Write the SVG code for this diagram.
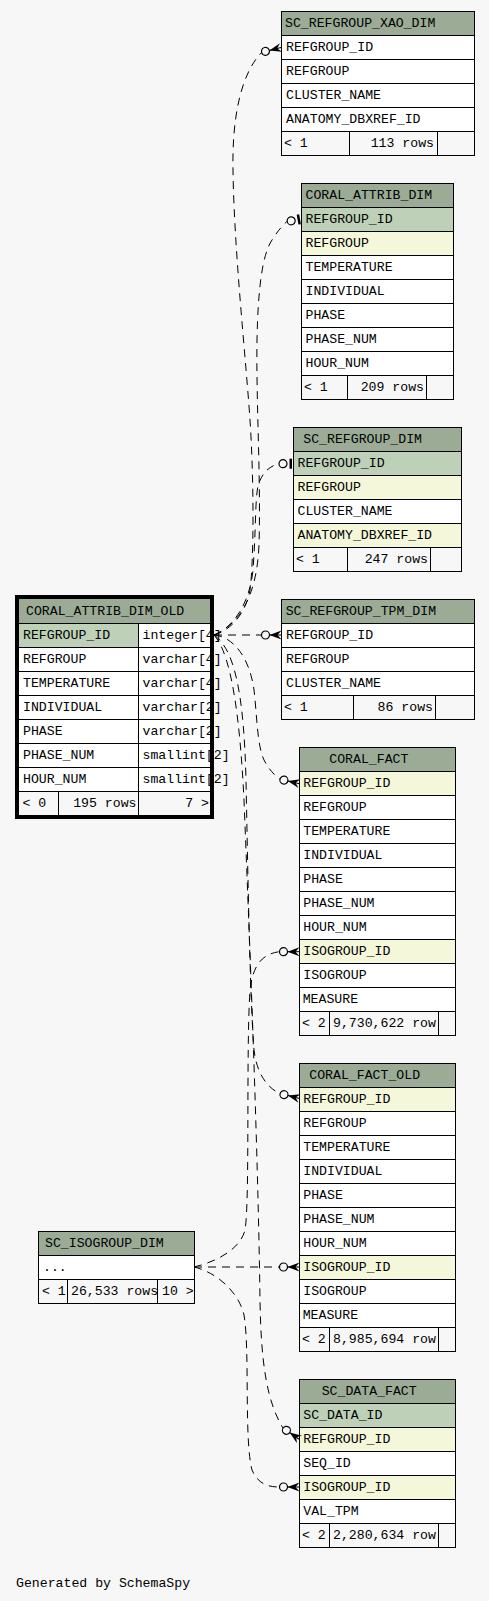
<svg xmlns="http://www.w3.org/2000/svg" xmlns:xlink="http://www.w3.org/1999/xlink" width="489" height="1601" viewBox="0 0 489 1601">
<style>
.t{font-family:"Liberation Mono","DejaVu Sans Mono",monospace;font-size:13.2px;fill:#000}
.e{text-anchor:end}
.h{fill:#9bab96;stroke:#000;stroke-width:1}
.pk{fill:#bed1b8;stroke:#000;stroke-width:1}
.ix{fill:#f4f7da;stroke:#000;stroke-width:1}
.c{fill:#fff;stroke:#000;stroke-width:1}
.f{fill:none;stroke:#000;stroke-width:1}
.ln{fill:none;stroke:#000;stroke-width:1;stroke-dasharray:8,6}
</style>
<defs>
<g id="crowodot">
<circle cx="-16" cy="0" r="4" fill="none" stroke="#000" stroke-width="1.2"/>
<path d="M-12,0 L0,-4.5 L-4,0 L0,4.5 Z" fill="#000"/>
<path d="M-12,0 H0" stroke="#000" fill="none"/>
</g>
<g id="teeodot">
<circle cx="-10.5" cy="0" r="4" fill="none" stroke="#000" stroke-width="1.2"/>
<rect x="-4" y="-5" width="2.5" height="10" fill="#000"/>
</g>
</defs>
<rect x="0" y="0" width="489" height="1601" fill="#f7f7f7"/>

<g id="SC_REFGROUP_XAO_DIM">
<rect class="h" x="281.5" y="11.5" width="193" height="24"/>
<rect class="c" x="281.5" y="35.5" width="193" height="24"/>
<rect class="c" x="281.5" y="59.5" width="193" height="24"/>
<rect class="c" x="281.5" y="83.5" width="193" height="24"/>
<rect class="c" x="281.5" y="107.5" width="193" height="24"/>
<rect class="f" x="281.5" y="131.5" width="68" height="24"/>
<rect class="f" x="349.5" y="131.5" width="88" height="24"/>
<rect class="f" x="437.5" y="131.5" width="37" height="24"/>
<text class="t" x="285" y="27">SC_REFGROUP_XAO_DIM</text>
<text class="t" x="286" y="51">REFGROUP_ID</text>
<text class="t" x="286" y="75">REFGROUP</text>
<text class="t" x="286" y="99">CLUSTER_NAME</text>
<text class="t" x="286" y="123">ANATOMY_DBXREF_ID</text>
<text class="t" x="284" y="147">&lt; 1</text>
<text class="t e" x="434" y="147">113 rows</text>
</g>

<g id="CORAL_ATTRIB_DIM">
<rect class="h" x="301.5" y="183.5" width="152" height="24"/>
<rect class="pk" x="301.5" y="207.5" width="152" height="24"/>
<rect class="ix" x="301.5" y="231.5" width="152" height="24"/>
<rect class="c" x="301.5" y="255.5" width="152" height="24"/>
<rect class="c" x="301.5" y="279.5" width="152" height="24"/>
<rect class="c" x="301.5" y="303.5" width="152" height="24"/>
<rect class="c" x="301.5" y="327.5" width="152" height="24"/>
<rect class="c" x="301.5" y="351.5" width="152" height="24"/>
<rect class="f" x="301.5" y="375.5" width="46" height="24"/>
<rect class="f" x="347.5" y="375.5" width="79" height="24"/>
<rect class="f" x="426.5" y="375.5" width="27" height="24"/>
<text class="t" x="305.5" y="199">CORAL_ATTRIB_DIM</text>
<text class="t" x="305.5" y="223">REFGROUP_ID</text>
<text class="t" x="305.5" y="247">REFGROUP</text>
<text class="t" x="305.5" y="271">TEMPERATURE</text>
<text class="t" x="305.5" y="295">INDIVIDUAL</text>
<text class="t" x="305.5" y="319">PHASE</text>
<text class="t" x="305.5" y="343">PHASE_NUM</text>
<text class="t" x="305.5" y="367">HOUR_NUM</text>
<text class="t" x="304" y="391">&lt; 1</text>
<text class="t e" x="424" y="391">209 rows</text>
</g>

<g id="SC_REFGROUP_DIM">
<rect class="h" x="293.5" y="427.5" width="168" height="24"/>
<rect class="pk" x="293.5" y="451.5" width="168" height="24"/>
<rect class="ix" x="293.5" y="475.5" width="168" height="24"/>
<rect class="c" x="293.5" y="499.5" width="168" height="24"/>
<rect class="ix" x="293.5" y="523.5" width="168" height="24"/>
<rect class="f" x="293.5" y="547.5" width="54" height="24"/>
<rect class="f" x="347.5" y="547.5" width="83" height="24"/>
<rect class="f" x="430.5" y="547.5" width="31" height="24"/>
<text class="t" x="303.3" y="443">SC_REFGROUP_DIM</text>
<text class="t" x="297.5" y="467">REFGROUP_ID</text>
<text class="t" x="297.5" y="491">REFGROUP</text>
<text class="t" x="297.5" y="515">CLUSTER_NAME</text>
<text class="t" x="297.5" y="539">ANATOMY_DBXREF_ID</text>
<text class="t" x="296" y="563">&lt; 1</text>
<text class="t e" x="428" y="563">247 rows</text>
</g>

<g id="SC_REFGROUP_TPM_DIM">
<rect class="h" x="281.5" y="599.5" width="193" height="24"/>
<rect class="c" x="281.5" y="623.5" width="193" height="24"/>
<rect class="c" x="281.5" y="647.5" width="193" height="24"/>
<rect class="c" x="281.5" y="671.5" width="193" height="24"/>
<rect class="f" x="281.5" y="695.5" width="72" height="24"/>
<rect class="f" x="353.5" y="695.5" width="82" height="24"/>
<rect class="f" x="435.5" y="695.5" width="39" height="24"/>
<text class="t" x="285.7" y="615">SC_REFGROUP_TPM_DIM</text>
<text class="t" x="286" y="639">REFGROUP_ID</text>
<text class="t" x="286" y="663">REFGROUP</text>
<text class="t" x="286" y="687">CLUSTER_NAME</text>
<text class="t" x="284" y="711">&lt; 1</text>
<text class="t e" x="433" y="711">86 rows</text>
</g>

<g id="CORAL_ATTRIB_DIM_OLD">
<rect class="h" x="18.5" y="598.5" width="193" height="25"/>
<rect class="pk" x="18.5" y="623.5" width="120" height="24"/>
<rect class="c" x="138.5" y="623.5" width="73" height="24"/>
<rect class="c" x="18.5" y="647.5" width="120" height="24"/>
<rect class="c" x="138.5" y="647.5" width="73" height="24"/>
<rect class="c" x="18.5" y="671.5" width="120" height="24"/>
<rect class="c" x="138.5" y="671.5" width="73" height="24"/>
<rect class="c" x="18.5" y="695.5" width="120" height="24"/>
<rect class="c" x="138.5" y="695.5" width="73" height="24"/>
<rect class="c" x="18.5" y="719.5" width="120" height="24"/>
<rect class="c" x="138.5" y="719.5" width="73" height="24"/>
<rect class="c" x="18.5" y="743.5" width="120" height="24"/>
<rect class="c" x="138.5" y="743.5" width="73" height="24"/>
<rect class="c" x="18.5" y="767.5" width="120" height="24"/>
<rect class="c" x="138.5" y="767.5" width="73" height="24"/>
<rect class="f" x="18.5" y="791.5" width="40" height="24"/>
<rect class="f" x="58.5" y="791.5" width="80" height="24"/>
<rect class="f" x="138.5" y="791.5" width="73" height="24"/>
<rect x="17" y="597" width="195" height="220" fill="none" stroke="#000" stroke-width="4"/>
<text class="t" x="26" y="615">CORAL_ATTRIB_DIM_OLD</text>
<text class="t" x="23" y="639">REFGROUP_ID</text>
<text class="t" x="23" y="663">REFGROUP</text>
<text class="t" x="23" y="687">TEMPERATURE</text>
<text class="t" x="23" y="711">INDIVIDUAL</text>
<text class="t" x="23" y="735">PHASE</text>
<text class="t" x="23" y="759">PHASE_NUM</text>
<text class="t" x="23" y="783">HOUR_NUM</text>
<text class="t" x="142.5" y="639">integer[4]</text>
<text class="t" x="142.5" y="663">varchar[4]</text>
<text class="t" x="142.5" y="687">varchar[4]</text>
<text class="t" x="142.5" y="711">varchar[2]</text>
<text class="t" x="142.5" y="735">varchar[2]</text>
<text class="t" x="142.5" y="759">smallint[2]</text>
<text class="t" x="142.5" y="783">smallint[2]</text>
<text class="t" x="22.5" y="807">&lt; 0</text>
<text class="t e" x="136.5" y="807">195 rows</text>
<text class="t e" x="209" y="807">7 &gt;</text>
</g>

<g id="CORAL_FACT">
<rect class="h" x="299.5" y="747.5" width="156" height="24"/>
<rect class="ix" x="299.5" y="771.5" width="156" height="24"/>
<rect class="c" x="299.5" y="795.5" width="156" height="24"/>
<rect class="c" x="299.5" y="819.5" width="156" height="24"/>
<rect class="c" x="299.5" y="843.5" width="156" height="24"/>
<rect class="c" x="299.5" y="867.5" width="156" height="24"/>
<rect class="c" x="299.5" y="891.5" width="156" height="24"/>
<rect class="c" x="299.5" y="915.5" width="156" height="24"/>
<rect class="ix" x="299.5" y="939.5" width="156" height="24"/>
<rect class="c" x="299.5" y="963.5" width="156" height="24"/>
<rect class="c" x="299.5" y="987.5" width="156" height="24"/>
<rect class="f" x="299.5" y="1011.5" width="30" height="24"/>
<rect class="f" x="329.5" y="1011.5" width="109" height="24"/>
<rect class="f" x="438.5" y="1011.5" width="17" height="24"/>
<text class="t" x="329.3" y="763">CORAL_FACT</text>
<text class="t" x="303.3" y="787">REFGROUP_ID</text>
<text class="t" x="303.3" y="811">REFGROUP</text>
<text class="t" x="303.3" y="835">TEMPERATURE</text>
<text class="t" x="303.3" y="859">INDIVIDUAL</text>
<text class="t" x="303.3" y="883">PHASE</text>
<text class="t" x="303.3" y="907">PHASE_NUM</text>
<text class="t" x="303.3" y="931">HOUR_NUM</text>
<text class="t" x="303.3" y="955">ISOGROUP_ID</text>
<text class="t" x="303.3" y="979">ISOGROUP</text>
<text class="t" x="302.7" y="1003">MEASURE</text>
<text class="t" x="302" y="1027">&lt; 2</text>
<text class="t" x="333" y="1027">9,730,622 row</text>
</g>

<g id="CORAL_FACT_OLD">
<rect class="h" x="299.5" y="1063.5" width="156" height="24"/>
<rect class="ix" x="299.5" y="1087.5" width="156" height="24"/>
<rect class="c" x="299.5" y="1111.5" width="156" height="24"/>
<rect class="c" x="299.5" y="1135.5" width="156" height="24"/>
<rect class="c" x="299.5" y="1159.5" width="156" height="24"/>
<rect class="c" x="299.5" y="1183.5" width="156" height="24"/>
<rect class="c" x="299.5" y="1207.5" width="156" height="24"/>
<rect class="c" x="299.5" y="1231.5" width="156" height="24"/>
<rect class="ix" x="299.5" y="1255.5" width="156" height="24"/>
<rect class="c" x="299.5" y="1279.5" width="156" height="24"/>
<rect class="c" x="299.5" y="1303.5" width="156" height="24"/>
<rect class="f" x="299.5" y="1327.5" width="30" height="24"/>
<rect class="f" x="329.5" y="1327.5" width="109" height="24"/>
<rect class="f" x="438.5" y="1327.5" width="17" height="24"/>
<text class="t" x="309.3" y="1079">CORAL_FACT_OLD</text>
<text class="t" x="303.3" y="1103">REFGROUP_ID</text>
<text class="t" x="303.3" y="1127">REFGROUP</text>
<text class="t" x="303.3" y="1151">TEMPERATURE</text>
<text class="t" x="303.3" y="1175">INDIVIDUAL</text>
<text class="t" x="303.3" y="1199">PHASE</text>
<text class="t" x="303.3" y="1223">PHASE_NUM</text>
<text class="t" x="303.3" y="1247">HOUR_NUM</text>
<text class="t" x="303.3" y="1271">ISOGROUP_ID</text>
<text class="t" x="303.3" y="1295">ISOGROUP</text>
<text class="t" x="302.7" y="1319">MEASURE</text>
<text class="t" x="302" y="1343">&lt; 2</text>
<text class="t" x="333" y="1343">8,985,694 row</text>
</g>

<g id="SC_ISOGROUP_DIM">
<rect class="h" x="38.5" y="1231.5" width="156" height="24"/>
<rect class="c" x="38.5" y="1255.5" width="156" height="24"/>
<rect class="f" x="38.5" y="1279.5" width="29" height="24"/>
<rect class="f" x="67.5" y="1279.5" width="90" height="24"/>
<rect class="f" x="157.5" y="1279.5" width="37" height="24"/>
<text class="t" x="45" y="1247">SC_ISOGROUP_DIM</text>
<text class="t" x="43" y="1271">...</text>
<text class="t" x="42" y="1295">&lt; 1</text>
<text class="t" x="71" y="1295">26,533 rows</text>
<text class="t" x="162" y="1295">10 &gt;</text>
</g>

<g id="SC_DATA_FACT">
<rect class="h" x="299.5" y="1379.5" width="156" height="24"/>
<rect class="pk" x="299.5" y="1403.5" width="156" height="24"/>
<rect class="ix" x="299.5" y="1427.5" width="156" height="24"/>
<rect class="c" x="299.5" y="1451.5" width="156" height="24"/>
<rect class="ix" x="299.5" y="1475.5" width="156" height="24"/>
<rect class="c" x="299.5" y="1499.5" width="156" height="24"/>
<rect class="f" x="299.5" y="1523.5" width="30" height="24"/>
<rect class="f" x="329.5" y="1523.5" width="109" height="24"/>
<rect class="f" x="438.5" y="1523.5" width="17" height="24"/>
<text class="t" x="321.7" y="1395">SC_DATA_FACT</text>
<text class="t" x="303.3" y="1419">SC_DATA_ID</text>
<text class="t" x="303.3" y="1443">REFGROUP_ID</text>
<text class="t" x="303.3" y="1467">SEQ_ID</text>
<text class="t" x="303.3" y="1491">ISOGROUP_ID</text>
<text class="t" x="303.3" y="1515">VAL_TPM</text>
<text class="t" x="302" y="1539">&lt; 2</text>
<text class="t" x="333" y="1539">2,280,634 row</text>
</g>

<g id="connectors">
<path class="ln" d="M214,635 C232,630 246,612 250,590 C254,560 254,480 250,420 C246,360 234,250 233,170 C232,120 240,75 261.6,52.4"/>
<path class="ln" d="M214,635 C240,624 257,595 259,545 C261,480 256,400 257,340 C258,290 262,255 272,240 C277,232 282,226 286.8,221.6"/>
<path class="ln" d="M214,635 C236,626 250,600 253,570 C256,530 255,500 258,486 C262,472 270,466 279,463.7"/>
<path class="ln" d="M214,635 L261.7,635"/>
<path class="ln" d="M214,635 C235,637 250,660 254,690 C257,715 257,745 264,760 C268,768 274,775 279.8,779.2"/>
<path class="ln" d="M214,635 C236,650 244,700 246,780 C248,880 250,1000 254,1050 C257,1075 268,1088 279.9,1093.6"/>
<path class="ln" d="M214,635 C232,655 240,720 244,800 C250,950 258,1150 260,1300 C261,1360 266,1400 282.9,1428"/>
<path class="ln" d="M194,1267 L279.3,1267"/>
<path class="ln" d="M194,1267 C215,1262 240,1250 245,1230 C250,1200 246,1050 250,990 C253,965 262,954 279.3,951.7"/>
<path class="ln" d="M194,1267 C215,1272 238,1290 244,1315 C250,1350 244,1440 252,1470 C258,1484 268,1487 279.3,1487"/>
<use xlink:href="#crowodot" transform="translate(281,47.5) rotate(-14)"/>
<use xlink:href="#teeodot" transform="translate(301.5,219) rotate(-10)"/>
<use xlink:href="#teeodot" transform="translate(293.5,463.7)"/>
<use xlink:href="#crowodot" transform="translate(281.5,635)"/>
<use xlink:href="#crowodot" transform="translate(299.5,783.7) rotate(13)"/>
<use xlink:href="#crowodot" transform="translate(299.5,951.7)"/>
<use xlink:href="#crowodot" transform="translate(299.5,1098.5) rotate(14)"/>
<use xlink:href="#crowodot" transform="translate(299.5,1267)"/>
<use xlink:href="#crowodot" transform="translate(299.5,1439.5) rotate(35)"/>
<use xlink:href="#crowodot" transform="translate(299.5,1487)"/>
</g>

<text class="t" x="16" y="1587">Generated by SchemaSpy</text>
</svg>
